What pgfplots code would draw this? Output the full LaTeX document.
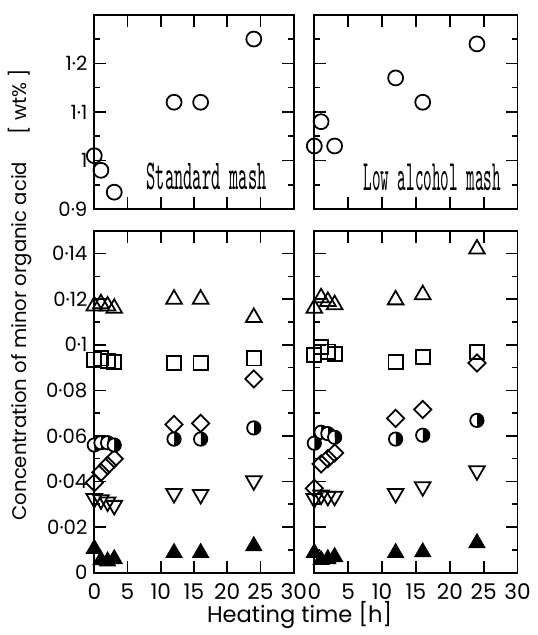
\documentclass[border=0pt]{standalone}
\usepackage{pgfplots}
\pgfplotsset{compat=1.18}
\usepackage{fontspec}
\setmainfont{Poppins}
\usepackage{graphicx}
\usetikzlibrary{plotmarks}

\pgfplotsset{
  panel/.style={
    scale only axis, clip=false,
    xmin=0, xmax=30, xtick={0,5,10,15,20,25,30},
    tick align=inside, major tick length=6pt, minor tick length=3pt,
    axis line style={line width=0.9pt},
    every tick/.style={black, line width=0.8pt},
    xticklabels={}, yticklabels={},
    tick label style={font=\fontsize{10}{12}\selectfont},
    xticklabel style={yshift=-2pt, font=\fontsize{11}{12}\selectfont},
  },
  toppanel/.style={ymin=0.9, ymax=1.3, ytick={0.9,1,1.1,1.2},
    minor ytick={0.95,1.05,1.15,1.25}, height=99pt},
  botpanel/.style={ymin=0, ymax=0.15,
    ytick={0,0.02,0.04,0.06,0.08,0.1,0.12,0.14},
    minor ytick={0.01,0.03,0.05,0.07,0.09,0.11,0.13}, height=174pt},
  circ/.style={only marks, mark=o, mark size=3.8pt, mark options={line width=0.9pt}},
  tri/.style={only marks, mark=triangle, mark size=4.6pt, mark options={line width=0.9pt}},
  sq/.style={only marks, mark=square, mark size=3.6pt, mark options={line width=0.9pt}},
  half/.style={only marks, mark=halfcircle*, mark size=3.4pt, mark options={rotate=-90, fill=black, line width=0.9pt}},
  dia/.style={only marks, mark=square, mark size=3.1pt, mark options={rotate=45, line width=0.9pt}},
  itri/.style={only marks, mark=triangle, mark size=4.6pt, mark options={rotate=180, line width=0.9pt}},
  ftri/.style={only marks, mark=triangle*, mark size=4.3pt, mark options={fill=black, line width=0.9pt}},
}

\begin{document}
\begin{tikzpicture}
\path (-48pt,-26pt) rectangle (221pt,291.5pt);

% standard mash, total
\begin{axis}[panel, toppanel, at={(0pt,185pt)}, anchor=south west, width=101.5pt,
  yticklabels={0·9,1,1·1,1·2}]
\addplot[circ] coordinates {(0,1.01) (1,0.98) (3,0.935) (12,1.12) (16,1.12) (24,1.25)};
\node at (axis cs:16.9,0.968) {\resizebox{61pt}{13.5pt}{\ttfamily Standard mash}};
\end{axis}

% low alcohol mash, total
\begin{axis}[panel, toppanel, at={(112pt,185pt)}, anchor=south west, width=103.5pt]
\addplot[circ] coordinates {(0,1.03) (1,1.08) (3,1.03) (12,1.17) (16,1.12) (24,1.24)};
\node at (axis cs:17.4,0.966) {\resizebox{70pt}{13.5pt}{\ttfamily Low alcohol mash}};
\end{axis}

% standard mash, minor acids
\begin{axis}[panel, botpanel, at={(0pt,0pt)}, anchor=south west, width=101.5pt,
  yticklabels={0,0·02,0·04,0·06,0·08,0·1,0·12,0·14},
  xticklabels={0,5,10,15,20,25,30}]
\addplot[tri] coordinates {(0,0.117) (1,0.118) (2,0.117) (3,0.116) (12,0.120) (16,0.120) (24,0.112)};
\addplot[sq] coordinates {(0,0.0935) (1,0.094) (2,0.093) (3,0.0925) (12,0.092) (16,0.092) (24,0.094)};
\addplot[dia] coordinates {(0,0.0395) (1,0.044) (2,0.047) (3,0.050) (12,0.065) (16,0.0655) (24,0.085)};
\addplot[half] coordinates {(0,0.056) (1,0.057) (2,0.057) (3,0.056) (12,0.0586) (16,0.0586) (24,0.0635)};
\addplot[itri] coordinates {(0,0.0325) (1,0.032) (2,0.031) (3,0.0295) (12,0.0347) (16,0.0343) (24,0.0403)};
\addplot[ftri] coordinates {(0,0.0105) (1,0.0055) (2,0.005) (3,0.006) (12,0.0087) (16,0.0087) (24,0.0117)};
\end{axis}

% low alcohol mash, minor acids
\begin{axis}[panel, botpanel, at={(112pt,0pt)}, anchor=south west, width=103.5pt,
  xticklabels={0,5,10,15,20,25,30}]
\addplot[tri] coordinates {(0,0.116) (1,0.1206) (2,0.119) (3,0.1176) (12,0.1197) (16,0.122) (24,0.142)};
\addplot[sq] coordinates {(0,0.0955) (1,0.099) (2,0.097) (3,0.096) (12,0.0924) (16,0.0946) (24,0.0967)};
\addplot[dia] coordinates {(0,0.037) (1,0.0477) (2,0.050) (3,0.0525) (12,0.0677) (16,0.0716) (24,0.092)};
\addplot[half] coordinates {(0,0.0568) (1,0.0616) (2,0.061) (3,0.0594) (12,0.0586) (16,0.0603) (24,0.0668)};
\addplot[itri] coordinates {(0,0.0325) (1,0.034) (2,0.0335) (3,0.0335) (12,0.0347) (16,0.0377) (24,0.0447)};
\addplot[ftri] coordinates {(0,0.0087) (1,0.0056) (2,0.006) (3,0.0069) (12,0.0087) (16,0.009) (24,0.013)};
\end{axis}

\node[rotate=90, font=\fontsize{10}{12}\selectfont] at (-38pt,141.5pt)
  {Concentration of minor organic acid\hspace{1.4em}[ wt\% ]};
\node[font=\fontsize{11.5}{13}\selectfont] at (104.5pt,-21.5pt) {Heating time [h]};
\end{tikzpicture}
\end{document}
